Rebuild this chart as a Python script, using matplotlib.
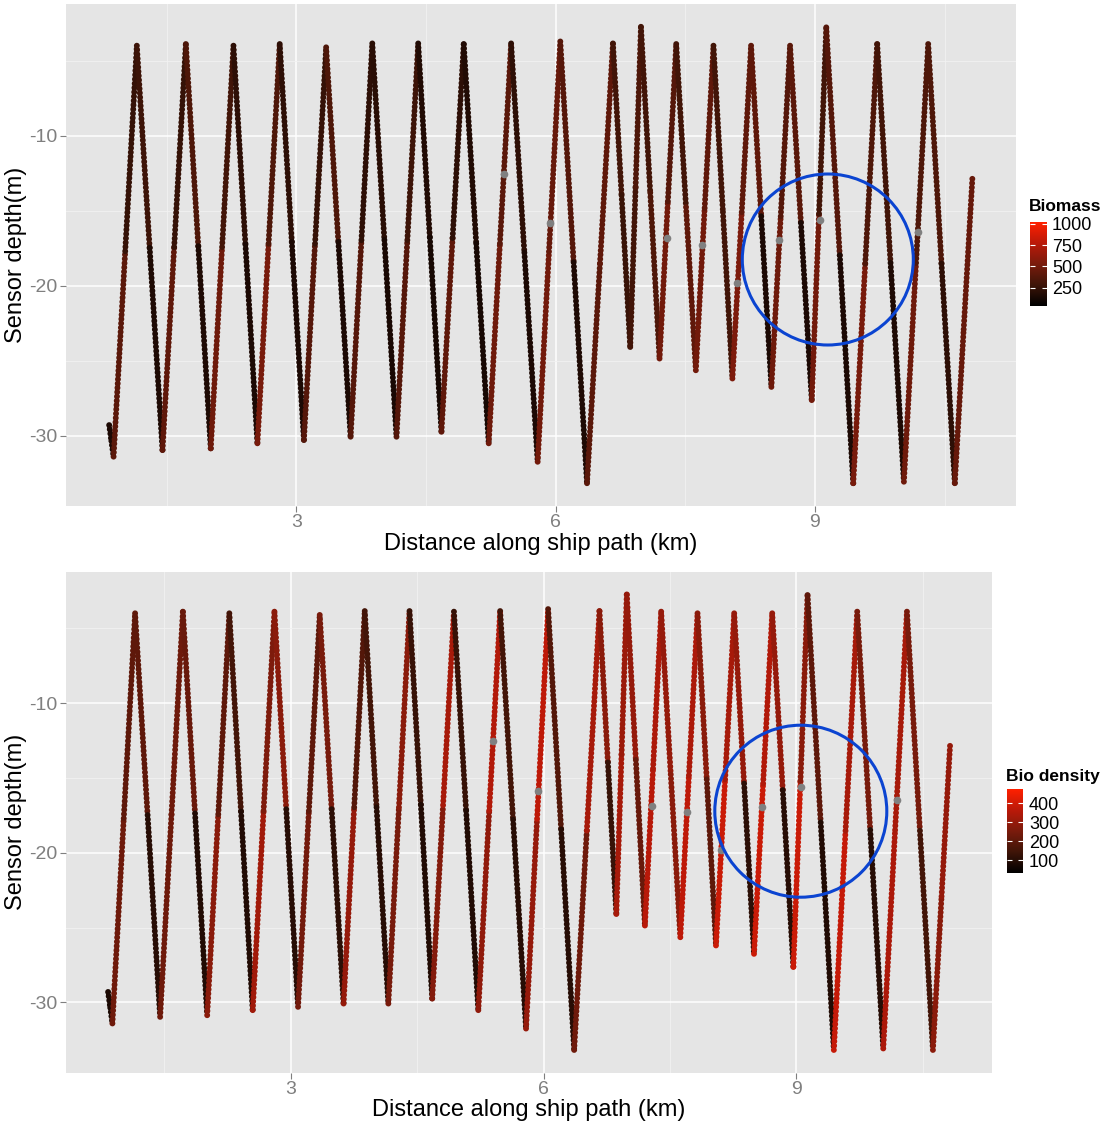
import matplotlib
matplotlib.use("Agg")
import matplotlib.pyplot as plt
from matplotlib.colors import LinearSegmentedColormap, Normalize
from matplotlib.cm import ScalarMappable
from matplotlib.patches import Ellipse

plt.rcParams['font.family'] = ['Liberation Sans', 'DejaVu Sans']
plt.rcParams['axes.unicode_minus'] = False

# turning points of the towed sensor (yo-yo) path
dist_km = [0.835, 0.886, 1.155, 1.452, 1.722, 2.010, 2.273, 2.550, 2.808, 3.088,
           3.345, 3.628, 3.879, 4.159, 4.410, 4.679, 4.937, 5.226, 5.485, 5.792,
           6.054, 6.363, 6.663, 6.863, 6.987, 7.202, 7.395, 7.622, 7.826, 8.045,
           8.261, 8.496, 8.712, 8.963, 9.131, 9.443, 9.720, 10.029, 10.310, 10.618,
           10.823]
depth_m = [-29.3, -31.4, -4.01, -30.96, -3.90, -30.85, -4.01, -30.51, -3.90, -30.29,
           -4.12, -30.07, -3.86, -30.07, -3.86, -29.74, -3.90, -30.51, -3.86, -31.74,
           -3.73, -33.17, -3.86, -24.09, -2.75, -24.86, -3.90, -25.64, -4.01, -26.19,
           -4.01, -26.75, -4.01, -27.63, -2.79, -33.17, -3.90, -33.07, -3.90, -33.17,
           -12.66]

# value on each leg between turning points: deep half / shallow half
biomass_deep = [150, 400, 160, 420, 160, 480, 150, 520, 150, 380,
                150, 380, 140, 380, 130, 420, 130, 480, 150, 500,
                160, 400, 260, 300, 350, 500, 420, 500, 300, 540,
                150, 480, 150, 500, 150, 520, 160, 480, 220, 450]
biomass_shallow = [150, 250, 280, 250, 350, 300, 220, 350, 220, 250,
                   350, 220, 200, 280, 170, 220, 170, 400, 220, 450,
                   380, 420, 300, 350, 300, 380, 300, 420, 300, 420,
                   420, 380, 400, 300, 380, 350, 300, 350, 350, 450]
density_deep = [80, 230, 100, 230, 90, 280, 90, 320, 100, 240,
                110, 300, 100, 250, 90, 270, 90, 290, 100, 300,
                100, 230, 130, 330, 220, 360, 280, 370, 200, 390,
                110, 390, 100, 390, 90, 380, 100, 340, 150, 280]
density_shallow = [80, 200, 200, 230, 220, 200, 150, 260, 280, 200,
                   250, 180, 150, 280, 130, 330, 130, 350, 150, 370,
                   180, 330, 280, 310, 300, 340, 300, 340, 280, 330,
                   300, 350, 300, 280, 200, 330, 250, 330, 250, 300]

# samples without a value (drawn grey)
na_km = [5.399, 5.939, 7.287, 7.698, 8.103, 8.588, 9.058, 10.187]
na_m = [-12.53, -15.85, -16.85, -17.30, -19.84, -16.96, -15.63, -16.45]

biomass_range = (42, 1020)
biomass_ticks = [250, 500, 750, 1000]
density_range = (32, 475)
density_ticks = [100, 200, 300, 400]

cmap = LinearSegmentedColormap.from_list(
    'blackred', ['#000000', '#3F1508', '#7A1B0C', '#BA1909', '#FF2000'])

W, H = 1116, 1126
fig = plt.figure(figsize=(W / 100, H / 100), dpi=100)


def box(l, t, r, b):
    return [l / W, 1 - b / H, (r - l) / W, (b - t) / H]


def draw_panel(ax, cax, deep_vals, shallow_vals, vrange, ticks, title, title_xy):
    norm = Normalize(*vrange)
    ax.set_facecolor('#E5E5E5')
    for i in range(len(dist_km) - 1):
        x0, y0 = dist_km[i], depth_m[i]
        x1, y1 = dist_km[i + 1], depth_m[i + 1]
        xm, ym = (x0 + x1) / 2, (y0 + y1) / 2
        if y0 < y1:
            parts = [((x0, xm), (y0, ym), deep_vals[i]),
                     ((xm, x1), (ym, y1), shallow_vals[i])]
        else:
            parts = [((x0, xm), (y0, ym), shallow_vals[i]),
                     ((xm, x1), (ym, y1), deep_vals[i])]
        for xs, ys, v in parts:
            ax.plot(xs, ys, color=cmap(norm(v)), lw=4.3,
                    linestyle=(0, (0.001, 0.72)), dash_capstyle='round')
    ax.plot(na_km, na_m, 'o', ms=5.5, color='#808080', mew=0, zorder=3)

    xr = max(dist_km) - min(dist_km)
    yr = max(depth_m) - min(depth_m)
    ax.set_xlim(min(dist_km) - 0.05 * xr, max(dist_km) + 0.05 * xr)
    ax.set_ylim(min(depth_m) - 0.05 * yr, max(depth_m) + 0.05 * yr)
    ax.set_xticks([3, 6, 9])
    ax.set_yticks([-30, -20, -10])
    ax.set_xticks([1.5, 4.5, 7.5, 10.5], minor=True)
    ax.set_yticks([-25, -15, -5], minor=True)
    ax.set_axisbelow(True)
    ax.grid(which='major', color='white', lw=1.1)
    ax.grid(which='minor', color='#F2F2F2', lw=0.6)
    ax.tick_params(which='major', length=4, width=0.8, color='#7F7F7F',
                   labelcolor='#7F7F7F', labelsize=14, pad=2)
    ax.tick_params(which='minor', length=0)
    for s in ax.spines.values():
        s.set_visible(False)
    ax.set_xlabel('Distance along ship path (km)', fontsize=17, labelpad=1)
    ax.set_ylabel('Sensor depth(m)', fontsize=17, labelpad=2)

    cb = fig.colorbar(ScalarMappable(norm=norm, cmap=cmap), cax=cax)
    cb.outline.set_visible(False)
    cb.set_ticks(ticks)
    cax.minorticks_off()
    cax.tick_params(axis='y', direction='in', color='white', labelcolor='black',
                    length=3.5, width=0.8, left=True, right=True,
                    labelleft=False, labelright=True, labelsize=13, pad=4)
    fig.text(title_xy[0] / W, 1 - title_xy[1] / H, title, fontsize=12.5,
             fontweight='bold', ha='left', va='bottom')


ax1 = fig.add_axes(box(66, 4, 1015.7, 506))
cax1 = fig.add_axes(box(1030, 222, 1046.5, 305.5))
draw_panel(ax1, cax1, biomass_deep, biomass_shallow, biomass_range,
           biomass_ticks, 'Biomass', (1029, 214))

ax2 = fig.add_axes(box(66, 571.7, 992.3, 1072.7))
cax2 = fig.add_axes(box(1007.3, 789, 1023.3, 873))
draw_panel(ax2, cax2, density_deep, density_shallow, density_range,
           density_ticks, 'Bio density', (1006, 784))

# hand-drawn blue circles marking the region of interest
for cx, cy, d in [(827.8, 259.5, 171), (800.8, 811.2, 172)]:
    fig.patches.append(Ellipse((cx / 100, (H - cy) / 100), d / 100, d / 100,
                               transform=fig.dpi_scale_trans, fill=False,
                               ec='#0B44D1', lw=2.2, zorder=10))

fig.savefig('out.png', dpi=100)
